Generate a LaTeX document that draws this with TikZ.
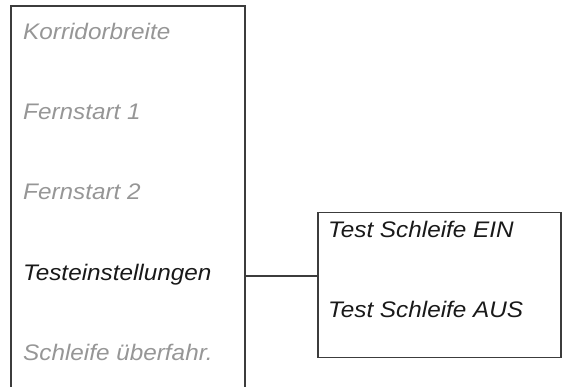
\documentclass[tikz,border=0pt]{standalone}
\usepackage{fontspec}
\setmainfont[FakeStretch=1.08]{Liberation Sans}
\definecolor{linec}{RGB}{60,60,60}
\definecolor{greyt}{RGB}{150,150,150}
\definecolor{darkt}{RGB}{25,25,25}
\tikzset{
  item/.style={anchor=base west, inner sep=0pt, font=\fontsize{22.5}{27}\selectfont\itshape},
  off/.style={item, text=greyt},
  on/.style={item, text=darkt},
  frame/.style={draw=linec, line width=1.2pt},
}
\begin{document}
\begin{tikzpicture}[x=1pt,y=-1pt]
\useasboundingbox (0,0) rectangle (562,387);
% left menu frame (open at bottom)
\coordinate (mnw) at (11,6);
\coordinate (mne) at (245,6);
\coordinate (msw) at (11,388);
\coordinate (mse) at (245,388);
\draw[frame] (msw) -- (mnw) -- (mne) -- (mse);
\node[off] (k) at (23,40) {Korridorbreite};
\node[off] (f1) at (23,120) {Fernstart 1};
\node[off] (f2) at (23,200) {Fernstart 2};
\node[on] (te) at (23,280) {Testeinstellungen};
\node[off] (su) at (23,360) {Schleife überfahr.};
% submenu
\node[frame, draw, rectangle, minimum width=243pt, minimum height=145pt, inner sep=0pt] (sub) at (439.5,285) {};
\node[on] (ein) at (328,238) {Test Schleife EIN};
\node[on] (aus) at (328,317) {Test Schleife AUS};
\coordinate (cl) at (245,276);
\draw[linec, line width=1.2pt] (cl) -- (sub.west |- cl);
\end{tikzpicture}
\end{document}
